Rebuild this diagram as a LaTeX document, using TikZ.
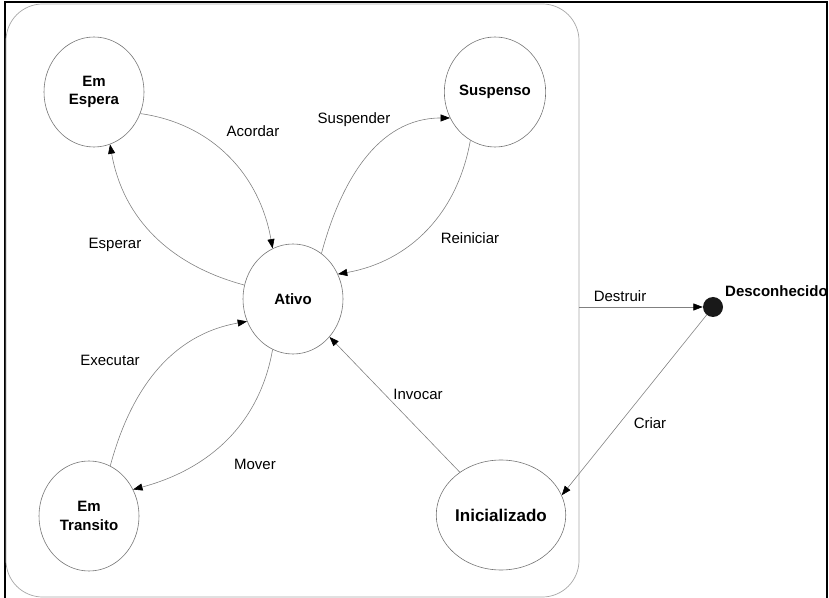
\documentclass[tikz,border=0pt]{standalone}
\usepackage{fontspec}
\setmainfont{Liberation Sans}
\usetikzlibrary{shapes.geometric}
\usetikzlibrary{positioning}
\usetikzlibrary{arrows.meta}
\tikzset{
    estado/.style = {ellipse, draw=black!55, line width=0.5pt, minimum width=3cm, minimum height=3.3cm, inner sep=0pt, align=center, font=\fontsize{12.8}{16}\selectfont\bfseries},
    sistema/.style = {rectangle, draw=black!35, line width=0.6pt, rounded corners=1.1cm, inner sep=0pt},
    ponto/.style = {circle, fill=black!90, minimum size=0.6cm, inner sep=0pt},
    rotulo/.style = {anchor=base, inner sep=0pt, font=\fontsize{12.8}{15}\selectfont},
    trans/.style = {draw=black!50, line width=0.5pt, -{Triangle[length=8pt,width=6pt,color=black]}},
    moldura/.style = {draw=black, line width=2.4pt}
}

\begin{document}
\begin{tikzpicture}[x=0.03cm, y=-0.03cm]
  \useasboundingbox (0,0) rectangle (829,598);
  \draw[moldura] (5,600) -- (5,2) -- (827,2) -- (827,600);

  \node[sistema, minimum width=17.19cm, minimum height=17.79cm] (sist) at (292.5,300.5) {};

  \node[estado] (espera)   at (94,92)   {Em\\Espera};
  \node[estado] (susp)     at (495,92)  {Suspenso};
  \node[estado] (ativo)    at (293,299) {Ativo};
  \node[estado] (transito) at (89,516)  {Em\\Transito};
  \node[estado, font=\fontsize{14.5}{17}\selectfont\bfseries] (init) at (501,515) {Inicializado};
  \node[ponto] (desc) at (713,307) {};
  \node[rotulo, anchor=base west, font=\fontsize{12.8}{15}\selectfont\bfseries] (descnome) at (725,297) {Desconhecido};

  \draw[trans] (espera.-25) to[out=-8,in=100] (ativo.112);
  \draw[trans] (ativo.164) to[out=165,in=-80] (espera.-73);
  \draw[trans] (ativo.58) to[out=75,in=180] (susp.210);
  \draw[trans] (susp.-117) to[out=-100,in=10] (ativo.29);
  \draw[trans] (transito.67) to[out=75,in=190] (ativo.206);
  \draw[trans] (ativo.-112) to[out=-100,in=15] (transito.31);
  \draw[trans] (init) -- (ativo);
  \draw[trans] (sist.east |- desc) -- (desc);
  \draw[trans] (desc) -- (init.18);

  \node[rotulo] (lacordar)   at (253,137) {Acordar};
  \node[rotulo] (lesperar)   at (115,249) {Esperar};
  \node[rotulo] (lsuspender) at (354,124) {Suspender};
  \node[rotulo] (lreiniciar) at (470,244) {Reiniciar};
  \node[rotulo] (lexecutar)  at (110,366) {Executar};
  \node[rotulo] (lmover)     at (255,470) {Mover};
  \node[rotulo] (linvocar)   at (418,400) {Invocar};
  \node[rotulo] (ldestruir)  at (620,302) {Destruir};
  \node[rotulo] (lcriar)     at (650,429) {Criar};
\end{tikzpicture}
\end{document}
